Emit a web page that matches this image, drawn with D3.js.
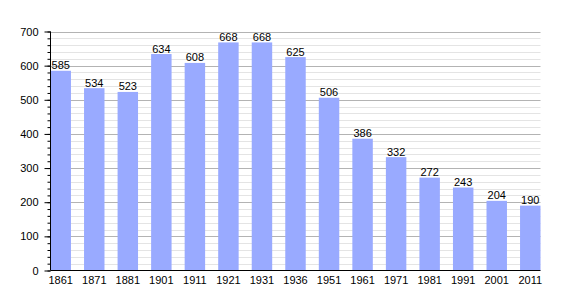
<!DOCTYPE html>
<html>
<head>
<meta charset="utf-8">
<script src="https://cdn.jsdelivr.net/npm/d3@7"></script>
<style>
  body { margin: 0; background: #fff; }
  svg { display: block; font-family: "Liberation Sans", Arial, sans-serif; }
</style>
</head>
<body>
<svg id="chart"></svg>
<script>
var years = ['1861', '1871', '1881', '1901', '1911', '1921', '1931', '1936', '1951', '1961', '1971', '1981', '1991', '2001', '2011'];
var population = [585, 534, 523, 634, 608, 668, 668, 625, 506, 386, 332, 272, 243, 204, 190];
var yTicks = [0, 100, 200, 300, 400, 500, 600, 700];

var svgWidth = 570, svgHeight = 300;
var plotLeft = 50.5, plotRight = 540.5, plotTop = 31.5, plotBottom = 270.5;

var svg = d3.select('#chart')
    .attr('width', svgWidth)
    .attr('height', svgHeight);

var x = d3.scaleBand()
    .domain(years)
    .range([plotLeft, plotRight])
    .paddingInner(0.39)
    .paddingOuter(0);

var y = d3.scaleLinear()
    .domain([0, 700])
    .range([plotBottom, plotTop]);

// minor grid every 20
svg.append('g').selectAll('line')
    .data(d3.range(20, 701, 20).filter(function(d) { return d % 100 != 0; }))
    .enter().append('line')
    .attr('x1', plotLeft).attr('x2', plotRight)
    .attr('y1', function(d) { return Math.round(y(d)) + 0.5; })
    .attr('y2', function(d) { return Math.round(y(d)) + 0.5; })
    .attr('stroke', '#e4e4e4');

// major grid
svg.append('g').selectAll('line')
    .data(yTicks.slice(1))
    .enter().append('line')
    .attr('x1', plotLeft).attr('x2', plotRight)
    .attr('y1', function(d) { return Math.round(y(d)) + 0.5; })
    .attr('y2', function(d) { return Math.round(y(d)) + 0.5; })
    .attr('stroke', '#b3b3b3');

svg.append('g').selectAll('rect')
    .data(population)
    .enter().append('rect')
    .attr('x', function(d, i) { return x(years[i]); })
    .attr('width', x.bandwidth())
    .attr('y', function(d) { return y(d); })
    .attr('height', function(d) { return plotBottom - y(d); })
    .attr('fill', '#99aaff');

svg.append('g').selectAll('text')
    .data(population)
    .enter().append('text')
    .text(function(d) { return d; })
    .attr('x', function(d, i) { return x(years[i]) + x.bandwidth() / 2; })
    .attr('y', function(d) { return y(d) - 1.5; })
    .attr('text-anchor', 'middle')
    .style('font-size', '11px')
    .attr('fill', '#000');

// y axis with minor ticks
svg.append('g')
    .attr('transform', 'translate(' + plotLeft + ',0)')
    .call(d3.axisLeft(y).tickValues(d3.range(0, 701, 20)).tickSize(3).tickFormat(''))
    .call(function(g) { g.select('.domain').remove(); });

var yAxis = svg.append('g')
    .attr('transform', 'translate(' + plotLeft + ',0)')
    .call(d3.axisLeft(y).tickValues(yTicks).tickSize(6).tickPadding(6));
yAxis.selectAll('text').style('font-size', '11px').style('font-family', '"Liberation Sans", Arial, sans-serif');
yAxis.select('.domain').attr('d', 'M0,' + plotTop + 'V' + plotBottom);

var xAxis = svg.append('g')
    .attr('transform', 'translate(0,' + plotBottom + ')')
    .call(d3.axisBottom(x).tickSize(0).tickPadding(6));
xAxis.selectAll('text').style('font-size', '11px').style('font-family', '"Liberation Sans", Arial, sans-serif');
xAxis.select('.domain').attr('d', 'M' + plotLeft + ',0H' + plotRight);
</script>
</body>
</html>
